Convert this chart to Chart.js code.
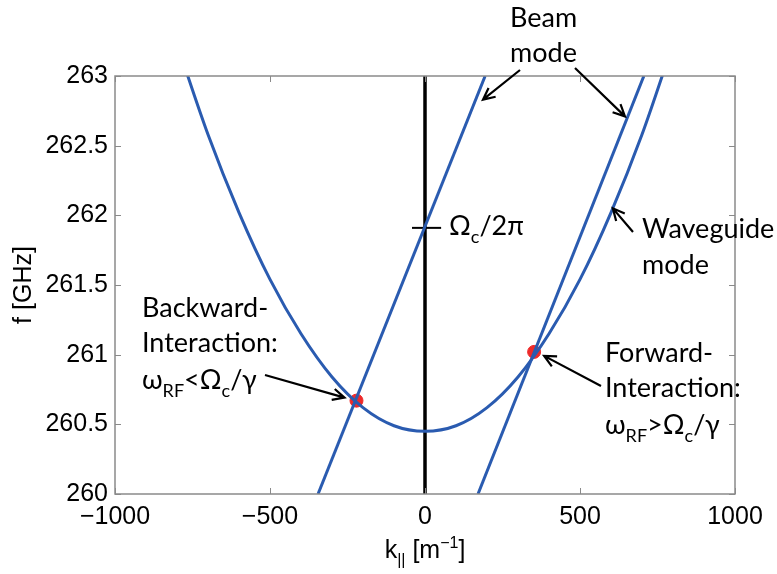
<!DOCTYPE html>
<html>
<head>
<meta charset="utf-8">
<script src="https://cdn.jsdelivr.net/npm/chart.js@4.4.1/dist/chart.umd.min.js"></script>
<style>
  html, body { margin: 0; padding: 0; background: #fff; }
  canvas { display: block; }
</style>
</head>
<body>
<canvas id="chart" width="777" height="574"></canvas>
<script>
// waveguide mode dispersion curve (k in 1/m, f in GHz)
var waveK = [-800, -700, -600, -500, -400, -300, -200, -100, 0, 100, 200, 300, 400, 500, 600, 700, 800];
var waveF = [263.23, 262.58, 262.02, 261.54, 261.15, 260.84, 260.62, 260.49, 260.45, 260.49, 260.62, 260.84, 261.15, 261.54, 262.02, 262.58, 263.23];

// the two beam mode lines
var beam1K = [-345, 194];
var beam1F = [260, 263];
var beam2K = [171, 706];
var beam2F = [260, 263];

// cyclotron frequency marker
var cycloK = [0, 0];
var cycloF = [260, 263];
var cycloTickK = [-42, 52];
var cycloTickF = [261.91, 261.91];

// interaction points
var hitK = [-221, 352];
var hitF = [260.67, 261.02];

var xTicks = [-1000, -500, 0, 500, 1000];
var yTicks = [260, 260.5, 261, 261.5, 262, 262.5, 263];

var blue = '#2a5bb0';

function pts(xs, ys) {
    var out = [];
    for (var i = 0; i < xs.length; i++) {
        out.push({ x: xs[i], y: ys[i] });
    }
    return out;
}

function arrow(ctx, x1, y1, x2, y2) {
    var a = Math.atan2(y2 - y1, x2 - x1);
    var h = 13;
    ctx.beginPath();
    ctx.moveTo(x1, y1);
    ctx.lineTo(x2, y2);
    ctx.moveTo(x2 - h * Math.cos(a - 0.45), y2 - h * Math.sin(a - 0.45));
    ctx.lineTo(x2, y2);
    ctx.lineTo(x2 - h * Math.cos(a + 0.45), y2 - h * Math.sin(a + 0.45));
    ctx.stroke();
}

// parts: [text, 'n' | 'sub' | 'sup']; each piece drawn on its own,
// which also keeps the font from forming a "ct" ligature
function richText(ctx, parts, x, y, size, family) {
    var cx = x;
    for (var i = 0; i < parts.length; i++) {
        var p = parts[i];
        var s = p[1] == 'n' ? size : Math.round(size * 0.65);
        var dy = p[1] == 'sub' ? size * 0.28 : (p[1] == 'sup' ? -size * 0.42 : 0);
        ctx.font = s + 'px ' + family;
        ctx.fillText(p[0], cx, y + dy);
        cx += ctx.measureText(p[0]).width;
    }
    return cx - x;
}

function richWidth(ctx, parts, size, family) {
    var w = 0;
    for (var i = 0; i < parts.length; i++) {
        var s = parts[i][1] == 'n' ? size : Math.round(size * 0.65);
        ctx.font = s + 'px ' + family;
        w += ctx.measureText(parts[i][0]).width;
    }
    return w;
}

var decor = {
    id: 'decor',
    afterDraw: function (chart) {
        var ctx = chart.ctx;
        var a = chart.chartArea;
        var xs = chart.scales.x;
        var ys = chart.scales.y;
        ctx.save();

        // axes box with inward ticks
        ctx.strokeStyle = '#8a8a8a';
        ctx.lineWidth = 1.5;
        ctx.strokeRect(a.left, a.top, a.right - a.left, a.bottom - a.top);
        ctx.lineWidth = 1;
        ctx.beginPath();
        xs.ticks.forEach(function (t) {
            var px = Math.round(xs.getPixelForValue(t.value)) + 0.5;
            ctx.moveTo(px, a.bottom); ctx.lineTo(px, a.bottom - 6);
            ctx.moveTo(px, a.top); ctx.lineTo(px, a.top + 6);
        });
        ys.ticks.forEach(function (t) {
            var py = Math.round(ys.getPixelForValue(t.value)) + 0.5;
            ctx.moveTo(a.left, py); ctx.lineTo(a.left + 6, py);
            ctx.moveTo(a.right, py); ctx.lineTo(a.right - 6, py);
        });
        ctx.stroke();

        // axis titles
        ctx.fillStyle = '#000';
        var arial = '"Liberation Sans", Arial, sans-serif';
        var kParts = [['k', 'n'], ['||', 'sub'], [' [m', 'n'], ['\u22121', 'sup'], [']', 'n']];
        var kw = richWidth(ctx, kParts, 25, arial);
        ctx.textBaseline = 'alphabetic';
        richText(ctx, kParts, (a.left + a.right) / 2 - kw / 2, 558, 25, arial);

        ctx.save();
        ctx.translate(31, (a.top + a.bottom) / 2);
        ctx.rotate(-Math.PI / 2);
        ctx.font = '25px ' + arial;
        ctx.textAlign = 'center';
        ctx.fillText('f [GHz]', 0, 0);
        ctx.restore();

        // annotations
        var lato = 'Lato, "Open Sans", sans-serif';
        var inter = [['Interac', 'n'], ['tion:', 'n']];
        ctx.textAlign = 'left';
        ctx.font = '27px ' + lato;
        ctx.fillText('Beam', 510, 27);
        ctx.fillText('mode', 510, 62);
        ctx.fillText('Waveguide', 642, 238);
        ctx.fillText('mode', 642, 274);
        ctx.fillText('Backward-', 142, 317);
        richText(ctx, inter, 142, 352, 27, lato);
        richText(ctx, [['\u03c9', 'n'], ['RF', 'sub'], ['<\u03a9', 'n'], ['c', 'sub'], ['/\u03b3', 'n']], 142, 389, 27, lato);
        ctx.font = '27px ' + lato;
        ctx.fillText('Forward-', 605, 362);
        richText(ctx, inter, 605, 397, 27, lato);
        richText(ctx, [['\u03c9', 'n'], ['RF', 'sub'], ['>\u03a9', 'n'], ['c', 'sub'], ['/\u03b3', 'n']], 605, 434, 27, lato);
        richText(ctx, [['\u03a9', 'n'], ['c', 'sub'], ['/2\u03c0', 'n']], 449, 235, 27, lato);

        // arrows pointing at the curves
        ctx.strokeStyle = '#000';
        ctx.lineWidth = 2.2;
        arrow(ctx, 520, 70, xs.getPixelForValue(187), ys.getPixelForValue(262.83));
        arrow(ctx, 575, 68, xs.getPixelForValue(645), ys.getPixelForValue(262.71));
        arrow(ctx, 633, 232, xs.getPixelForValue(606), ys.getPixelForValue(262.05));
        arrow(ctx, 265, 375, xs.getPixelForValue(hitK[0]) - 12, ys.getPixelForValue(hitF[0]) - 3);
        arrow(ctx, 601, 386, xs.getPixelForValue(hitK[1]) + 10, ys.getPixelForValue(hitF[1]) + 4);

        ctx.restore();
    }
};

var ctx = document.getElementById('chart').getContext('2d');
var myChart = new Chart(ctx, {
    type: 'scatter',
    data: {
        datasets: [{
            data: pts(waveK, waveF),
            showLine: true,
            borderColor: blue,
            borderWidth: 3,
            pointRadius: 0,
            cubicInterpolationMode: 'monotone'
        }, {
            data: pts(beam1K, beam1F),
            showLine: true,
            borderColor: blue,
            borderWidth: 3,
            pointRadius: 0
        }, {
            data: pts(beam2K, beam2F),
            showLine: true,
            borderColor: blue,
            borderWidth: 3,
            pointRadius: 0
        }, {
            data: pts(cycloK, cycloF),
            showLine: true,
            borderColor: '#000',
            borderWidth: 3.5,
            pointRadius: 0
        }, {
            data: pts(cycloTickK, cycloTickF),
            showLine: true,
            borderColor: '#000',
            borderWidth: 2,
            pointRadius: 0
        }, {
            data: pts(hitK, hitF),
            showLine: false,
            backgroundColor: '#ee2a2a',
            borderColor: '#ee2a2a',
            pointRadius: 6.5
        }]
    },
    options: {
        responsive: false,
        animation: false,
        devicePixelRatio: 1,
        layout: { padding: { left: 0, right: 42, top: 76, bottom: 0 } },
        plugins: { legend: { display: false }, tooltip: { enabled: false } },
        scales: {
            x: {
                type: 'linear',
                min: -1000,
                max: 1000,
                afterFit: function (s) { s.height = 80; },
                afterBuildTicks: function (s) { s.ticks = xTicks.map(function (v) { return { value: v }; }); },
                grid: { display: false, drawTicks: false },
                border: { display: false },
                ticks: {
                    color: '#000',
                    padding: 8,
                    maxRotation: 0,
                    font: { family: '"Liberation Sans", Arial, sans-serif', size: 25 },
                    callback: function (v) { return String(v).replace('-', '\u2212'); }
                }
            },
            y: {
                type: 'linear',
                min: 260,
                max: 263,
                afterFit: function (s) { s.width = 115; },
                afterBuildTicks: function (s) { s.ticks = yTicks.map(function (v) { return { value: v }; }); },
                grid: { display: false, drawTicks: false },
                border: { display: false },
                ticks: {
                    color: '#000',
                    padding: 7,
                    font: { family: '"Liberation Sans", Arial, sans-serif', size: 25 },
                    callback: function (v) { return String(v); }
                }
            }
        }
    },
    plugins: [decor]
});
</script>
</body>
</html>
